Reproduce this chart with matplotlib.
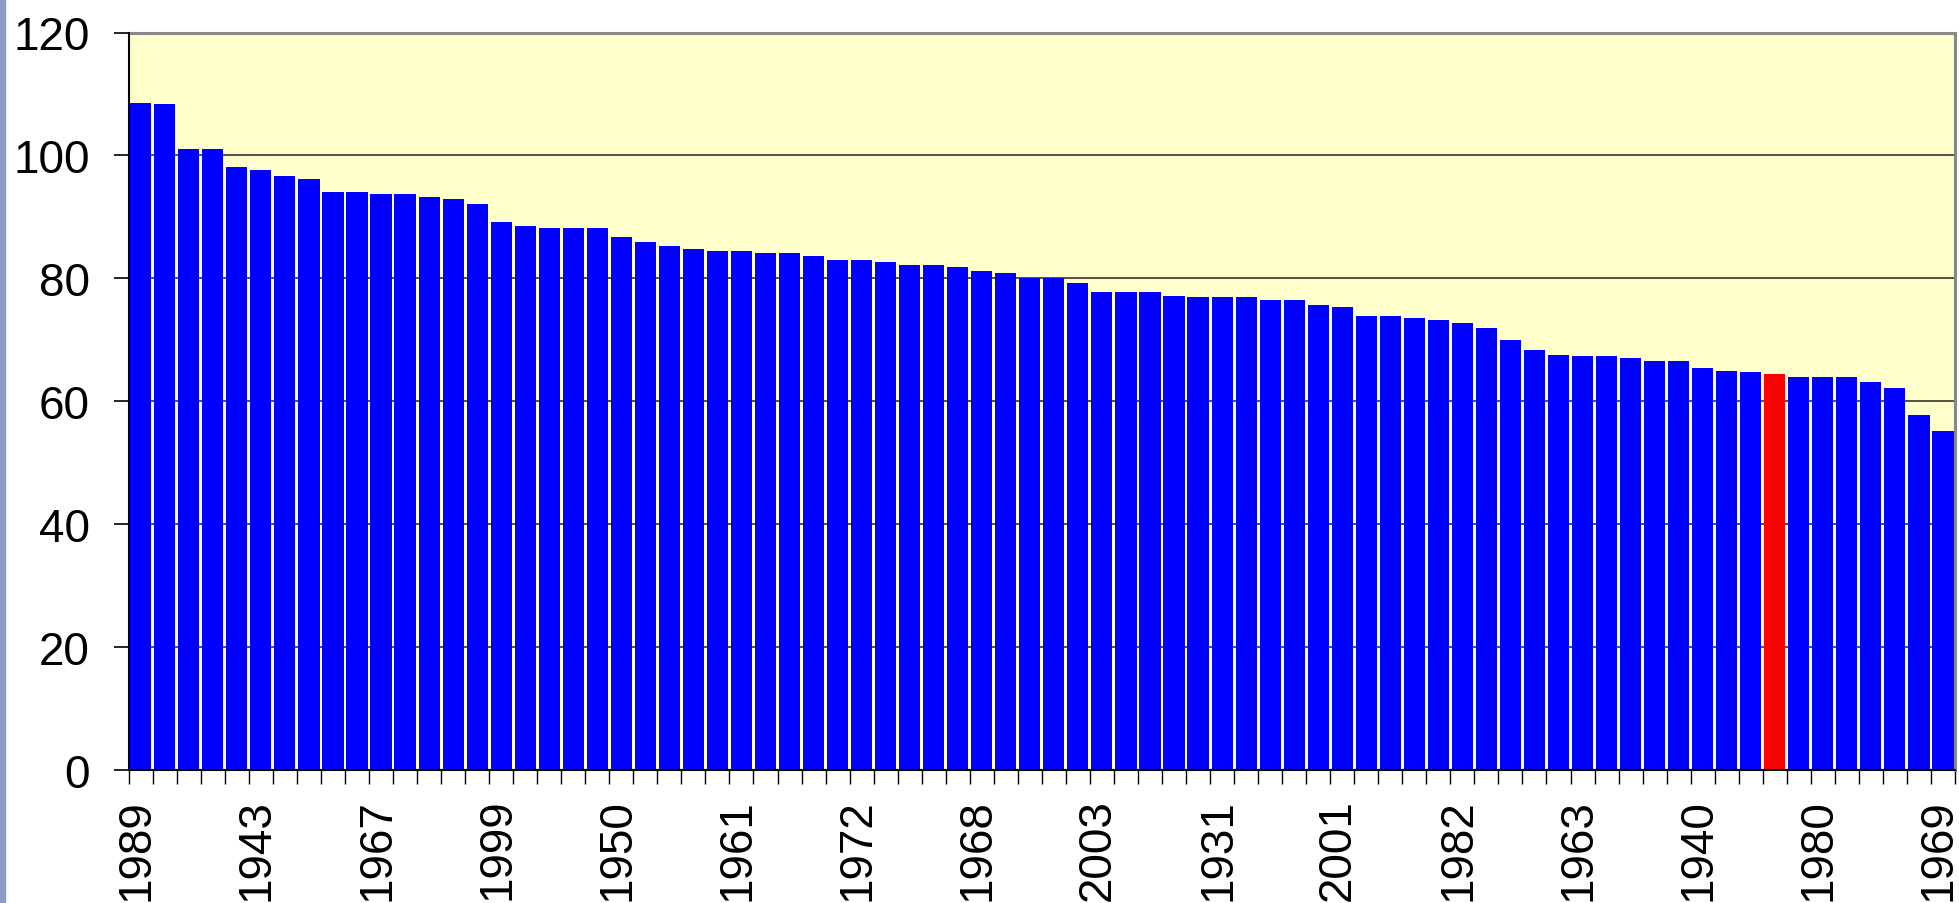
import matplotlib.pyplot as plt
import numpy as np
from matplotlib.patches import Rectangle
from matplotlib.transforms import ScaledTranslation

# bar heights, left to right (already sorted descending)
values = [108.6, 108.3, 101.0, 101.0, 98.1, 97.6, 96.6, 96.2, 94.1, 94.1,
          93.7, 93.7, 93.2, 92.9, 92.1, 89.2, 88.5, 88.2, 88.2, 88.2,
          86.8, 85.9, 85.3, 84.8, 84.5, 84.5, 84.2, 84.2, 83.7, 83.0,
          83.0, 82.7, 82.2, 82.2, 81.9, 81.2, 80.8, 80.1, 80.1, 79.3,
          77.8, 77.8, 77.8, 77.2, 76.9, 76.9, 76.9, 76.4, 76.4, 75.7,
          75.4, 73.8, 73.8, 73.5, 73.2, 72.8, 72.0, 69.9, 68.4, 67.6,
          67.3, 67.3, 67.0, 66.5, 66.5, 65.4, 65.0, 64.7, 64.4, 63.9,
          63.9, 63.9, 63.2, 62.1, 57.8, 55.1]
highlight = 68  # the red bar

# only every fifth bar carries a label
tick_labels = ['1989', '1943', '1967', '1999', '1950', '1961', '1972', '1968',
               '2003', '1931', '2001', '1982', '1963', '1940', '1980', '1969']
label_step = 5

n = len(values)
x = np.arange(n)
colors = ['#0000FF'] * n
colors[highlight] = '#FF0000'

plt.rcParams['font.family'] = ['Liberation Sans', 'DejaVu Sans']

fig = plt.figure(figsize=(19.59, 9.04), dpi=100)
ax = fig.add_axes([128.7 / 1959, 1 - 771 / 904, (1955 - 128.7) / 1959, (771 - 33.5) / 904])

# thin strip of slide background on the left edge
fig.patches.append(Rectangle((0, 0), 5 / 1959, 1, transform=fig.transFigure,
                             color='#8c9cc8', zorder=0))

ax.set_facecolor('#FFFFCC')
# white gaps between the bars, no outline on top
ax.bar(x, values, width=0.88, color=colors, linewidth=0, zorder=2)

ax.set_xlim(-0.5, n - 0.5)
ax.set_ylim(0, 120)
ax.set_yticks(np.arange(0, 121, 20))
ax.yaxis.grid(True, color='#333333', linewidth=1.2, zorder=1)
ax.set_axisbelow(True)

ax.set_xticks(x[::label_step])
ax.set_xticklabels(tick_labels, rotation=90, fontsize=33)
ax.set_xticks(np.arange(-0.5, n, 1), minor=True)
ax.tick_params(axis='x', which='major', length=0, pad=20)
ax.tick_params(axis='x', which='minor', length=10, width=1, color='black', direction='out')
ax.tick_params(axis='y', labelsize=33, length=11, width=1.2, pad=17)

# nudge the year labels a little to the left, as in the original
shift = ScaledTranslation(-4 / 100, 0, fig.dpi_scale_trans)
for lbl in ax.get_xticklabels():
    lbl.set_transform(lbl.get_transform() + shift)

for side in ['left', 'bottom']:
    ax.spines[side].set_color('black')
    ax.spines[side].set_linewidth(1.5)
    ax.spines[side].set_zorder(3)
for side in ['top', 'right']:
    ax.spines[side].set_color('#888888')
    ax.spines[side].set_linewidth(2.2)

fig.savefig('out.png', dpi=100)
